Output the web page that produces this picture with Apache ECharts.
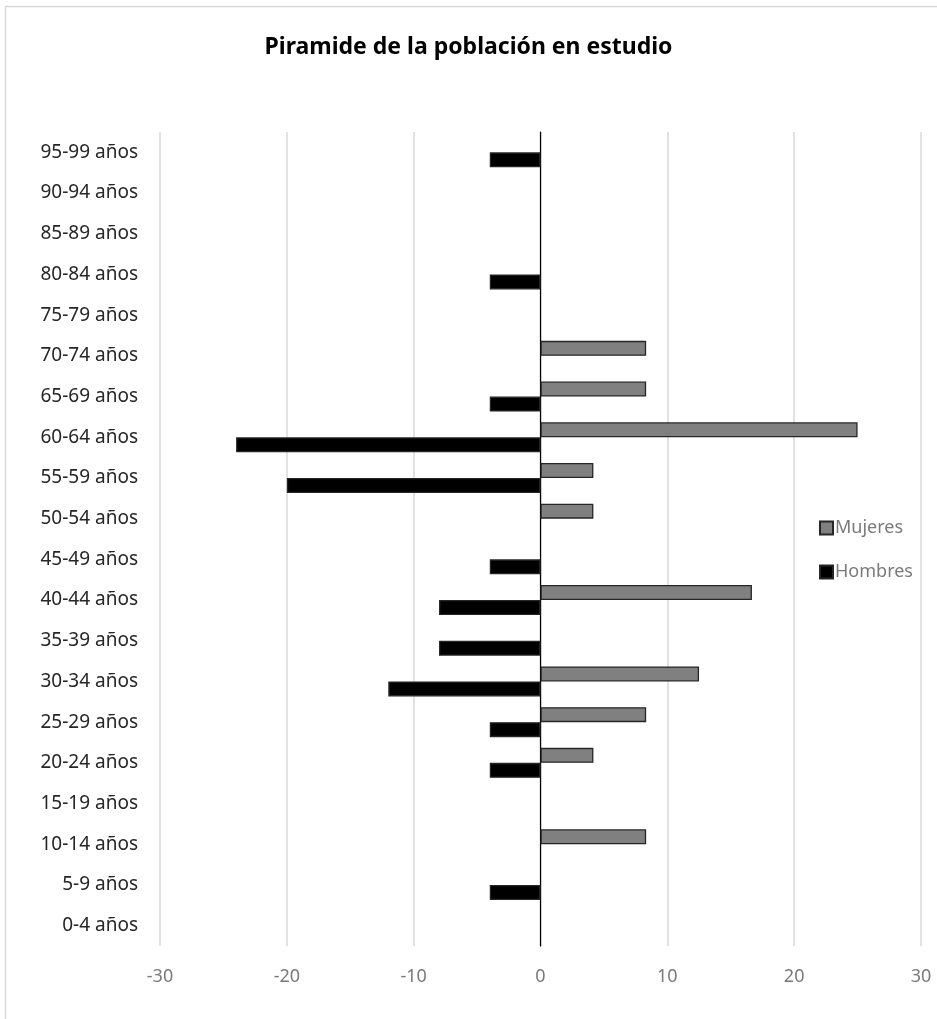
<!DOCTYPE html>
<html><head><meta charset="utf-8">
<script src="https://cdn.jsdelivr.net/npm/echarts@6/dist/echarts.min.js"></script>
<style>html,body{margin:0;padding:0;background:#fff}#c{width:937px;height:1019px}</style>
</head><body><div id="c"></div>
<script>
const categories = ['0-4 años','5-9 años','10-14 años','15-19 años','20-24 años','25-29 años','30-34 años','35-39 años','40-44 años','45-49 años','50-54 años','55-59 años','60-64 años','65-69 años','70-74 años','75-79 años','80-84 años','85-89 años','90-94 años','95-99 años'];
const mujeres = [null,null,8.33,null,4.17,8.33,12.5,null,16.67,null,4.17,4.17,25,8.33,8.33,null,null,null,null,null];
const hombres = [null,-4,null,null,-4,-4,-12,-8,-8,-4,null,-20,-24,-4,null,null,-4,null,null,-4];
const title = 'Piramide de la población en estudio';

const font = '"Noto Sans", sans-serif';
const chart = echarts.init(document.getElementById('c'));
chart.setOption({
  animation: false,
  backgroundColor: '#fff',
  graphic: [{type:'rect', shape:{x:5.5,y:6.5,width:1000,height:1100}, style:{fill:'none', stroke:'#d9d9d9', lineWidth:1.5}, z:-1}],
  title: {text: title, left: 'center', top: 31, textStyle:{fontFamily:font, fontSize:23, fontWeight:'bold', color:'#000'}},
  legend: {
    orient:'vertical', left: 814, top: 514, itemWidth: 13, itemHeight: 13, itemGap: 26,
    icon:'rect',
    data:['Mujeres','Hombres'],
    textStyle:{fontFamily:font, fontSize:18, color:'#7a7a7a', padding:[0,0,0,-3]}
  },
  grid: {left:160, right:16, top:132, bottom:73, containLabel:false},
  xAxis: {
    type:'value', min:-30, max:30, interval:10,
    axisLine:{show:false}, axisTick:{show:false},
    splitLine:{lineStyle:{color:'#d9d9d9', width:1.5}},
    axisLabel:{fontFamily:font, fontSize:18, color:'#7a7a7a', margin:22}
  },
  yAxis: {
    type:'category', data: categories,
    axisLine:{lineStyle:{color:'#000', width:1.2}}, axisTick:{show:false},
    axisLabel:{fontFamily:font, fontSize:19, color:'#262626', margin:22, padding:[5,0,0,0]}
  },
  series: [
    {name:'Mujeres', type:'bar', data:mujeres, barWidth:15, barGap:'0%',
     itemStyle:{color:'#808080', borderColor:'#262626', borderWidth:1.3}},
    {name:'Hombres', type:'bar', data:hombres, barWidth:15, barGap:'0%',
     itemStyle:{color:'#000', borderColor:'#262626', borderWidth:1.3}}
  ]
});
</script></body></html>
